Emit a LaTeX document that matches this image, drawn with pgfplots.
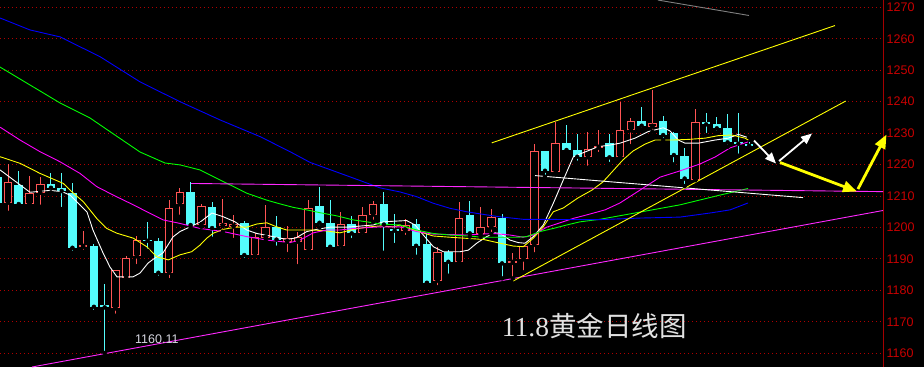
\documentclass[border=0pt]{standalone}
\usepackage{fontspec}
\setmainfont{Liberation Sans}
\newfontfamily\serifdigits{Liberation Serif}
\newfontfamily\cjk{Noto Sans CJK SC}
\usepackage{pgfplots}
\usepackage{pgfplotstable}
\pgfplotsset{compat=1.18}
\usetikzlibrary{arrows.meta}

\definecolor{upred}{RGB}{255,84,84}
\definecolor{downcyan}{RGB}{84,252,252}
\definecolor{gridred}{RGB}{176,0,0}
\definecolor{axisred}{RGB}{165,0,0}
\definecolor{labelred}{RGB}{200,0,0}
\definecolor{maone}{RGB}{255,255,255}
\definecolor{matwo}{RGB}{255,255,0}
\definecolor{mathree}{RGB}{255,0,255}
\definecolor{mafour}{RGB}{0,255,0}
\definecolor{mafive}{RGB}{0,0,255}
\definecolor{masix}{RGB}{128,128,128}
\definecolor{noteline}{RGB}{255,40,255}

% daily candles: index, open, high, low, close
\pgfplotstableread{
k  open    high    low     close
0  1207.86 1220.17 1204.68 1214.35
2  1207.54 1216.45 1207.54 1210.85
3  1211.04 1215.94 1206.59 1213.81
7  1193.87 1198.96 1192.28 1194.41
10 1174.28 1186.50 1171.93 1186.36
11 1184.01 1190.91 1183.18 1190.18
12 1190.82 1197.18 1187.73 1196.00
15 1185.60 1208.72 1183.28 1206.08
16 1207.35 1212.44 1203.41 1211.17
18 1200.77 1207.45 1200.23 1206.81
20 1200.45 1209.04 1198.64 1201.31
21 1200.29 1203.95 1196.00 1201.25
23 1191.23 1198.13 1191.01 1196.86
24 1196.80 1207.13 1196.00 1200.04
26 1195.46 1200.45 1191.55 1196.64
27 1195.46 1198.54 1187.73 1196.86
28 1192.82 1208.72 1192.82 1206.08
31 1194.19 1204.81 1192.82 1201.09
33 1198.32 1206.40 1197.05 1203.86
34 1204.11 1208.40 1201.82 1207.38
37 1199.02 1202.68 1196.96 1200.93
40 1183.06 1193.87 1180.96 1192.09
42 1188.91 1208.18 1188.59 1202.90
44 1197.91 1206.59 1197.05 1200.04
45 1200.04 1205.86 1197.91 1203.22
47 1188.78 1191.96 1183.82 1189.32
48 1189.86 1194.00 1185.73 1194.00
49 1194.50 1226.53 1191.45 1224.21
51 1217.72 1233.43 1217.21 1226.75
54 1222.30 1230.44 1218.99 1224.84
55 1225.35 1230.98 1223.35 1225.89
57 1222.30 1239.98 1221.98 1230.88
58 1230.88 1234.70 1225.89 1233.84
60 1232.03 1243.70 1230.44 1233.11
64 1215.08 1237.66 1215.08 1233.43
}\upcandles

\pgfplotstableread{
k  open    high    low     close
-1 1216.13 1216.13 1207.86 1207.86
1  1213.49 1218.04 1206.81 1207.45
4  1213.81 1217.21 1211.17 1212.63
5  1212.44 1217.40 1205.86 1211.58
6  1210.85 1214.03 1191.96 1193.55
8  1194.09 1194.63 1173.20 1174.79
9  1175.33 1182.01 1160.11 1174.60
13 1196.10 1201.63 1192.60 1195.78
14 1195.68 1196.54 1184.01 1185.60
17 1211.26 1214.54 1200.13 1200.77
19 1206.40 1208.08 1196.41 1199.82
22 1201.31 1202.14 1189.64 1191.23
25 1200.13 1203.63 1193.55 1196.16
29 1206.81 1212.76 1200.04 1201.50
30 1201.31 1208.72 1193.14 1193.87
32 1201.09 1203.73 1196.00 1198.13
35 1207.45 1211.17 1191.96 1200.93
36 1199.66 1204.27 1194.41 1199.02
38 1201.09 1202.68 1190.69 1194.19
39 1194.73 1198.23 1182.23 1182.42
41 1192.09 1192.82 1184.65 1189.10
43 1203.86 1208.31 1197.05 1198.13
46 1202.99 1204.17 1183.82 1188.59
50 1224.21 1224.30 1216.13 1218.04
52 1226.75 1232.57 1223.57 1224.62
53 1224.62 1229.71 1220.58 1222.49
56 1226.75 1229.71 1220.17 1222.30
59 1233.84 1238.39 1230.98 1232.35
61 1233.84 1235.43 1227.80 1229.39
62 1230.12 1230.20 1220.07 1223.03
63 1222.81 1225.16 1213.17 1215.56
65 1233.43 1236.29 1229.39 1232.79
66 1232.79 1235.02 1230.12 1231.52
67 1231.71 1235.97 1225.67 1227.07
68 1227.16 1236.48 1222.81 1226.62
69 1226.62 1227.26 1224.94 1225.99
}\downcandles

\begin{document}
\begin{tikzpicture}
\fill[black] (0,0) rectangle (924pt,367pt);
\begin{axis}[
  at={(0,0)}, anchor=south west,
  scale only axis, width=883pt, height=367pt,
  xmin=-0.745, xmax=81.47, ymin=1155.65, ymax=1272.32,
  clip=false,
  axis x line=none,
  axis y line*=right,
  y axis line style={draw=axisred, line width=1pt},
  ytick={1160,1170,...,1270},
  yticklabel style={text=labelred, font=\fontsize{12.5}{13}\selectfont,
    anchor=west, inner sep=0pt, xshift=3.5pt},
  major tick length=0pt,
  ymajorgrids,
  grid style={gridred, line width=1pt, dash pattern=on 1pt off 3pt},
  /pgf/number format/assume math mode=true,
  /pgf/number format/1000 sep={},
]

% wicks
\addplot[only marks, mark=none, forget plot,
  error bars/.cd, y dir=plus, y explicit, error mark=none,
  error bar style={draw=upred, line width=1pt}]
  table[x=k, y=low, y error expr=\thisrow{high}-\thisrow{low}] {\upcandles};
\addplot[only marks, mark=none, forget plot,
  error bars/.cd, y dir=plus, y explicit, error mark=none,
  error bar style={draw=downcyan, line width=1pt}]
  table[x=k, y=low, y error expr=\thisrow{high}-\thisrow{low}] {\downcandles};

% falling bodies: solid cyan
\addplot[only marks, mark=none, forget plot,
  error bars/.cd, y dir=plus, y explicit, error mark=none,
  error bar style={draw=downcyan, line width=8.6pt}]
  table[x=k, y=close, y error expr=\thisrow{open}-\thisrow{close}] {\downcandles};

% rising bodies: hollow red
\addplot[only marks, mark=none, forget plot,
  error bars/.cd, y dir=plus, y explicit, error mark=none,
  error bar style={draw=upred, line width=8.6pt}]
  table[x=k, y=open, y error expr=\thisrow{close}-\thisrow{open}] {\upcandles};
\addplot[only marks, mark=none, forget plot,
  error bars/.cd, y dir=plus, y explicit, error mark=none,
  error bar style={draw=black, line width=6.6pt}]
  table[x=k, y expr=\thisrow{open}+0.32,
        y error expr={max(\thisrow{close}-\thisrow{open}-0.64,0)}] {\upcandles};

% moving averages
\addplot[maone, line width=0.9pt, mark=none] coordinates {
(-0.74,1218.3) (2.05,1211.2) (3.91,1211.8) (5.03,1211.4) (5.77,1210.3) (6.70,1207.2)
(7.36,1204.9) (7.91,1199.2) (8.85,1191.9) (9.50,1187.4) (10.15,1184.3) (11.64,1184.3)
(12.29,1185.5) (13.04,1188.7) (13.69,1190.3) (14.43,1191.9) (15.36,1197.0) (16.01,1198.7)
(16.95,1200.2) (17.88,1201.7) (18.99,1204.6) (20.05,1203.4) (21.14,1201.8) (22.23,1199.2)
(23.16,1198.1) (24.39,1197.3) (25.95,1196.2) (26.82,1196.7) (27.81,1198.7) (28.74,1199.4)
(29.98,1200.1) (31.54,1200.1) (34.01,1200.8) (34.94,1201.8) (36.50,1202.1) (37.12,1202.2)
(37.90,1200.8) (38.67,1197.6) (39.60,1193.9) (40.53,1192.3) (42.09,1192.3) (42.86,1192.8)
(43.64,1195.0) (44.57,1197.1) (45.34,1198.3) (45.81,1198.1) (46.74,1196.0) (47.51,1195.2)
(48.14,1195.0) (48.91,1197.1) (49.84,1200.8) (50.77,1207.7) (51.70,1215.1) (52.64,1222.5)
(53.57,1223.8) (54.96,1225.7) (56.05,1226.2) (56.98,1226.8) (58.38,1228.4) (59.62,1230.5)
(61.01,1231.7) (61.64,1230.7) (62.41,1227.8) (63.04,1226.8) (64.27,1226.8) (65.83,1227.8)
(67.07,1228.4) (68.00,1229.6) (68.78,1228.7)};
\addplot[matwo, line width=0.9pt, mark=none] coordinates {
(-0.74,1222.5) (1.12,1220.4) (2.98,1217.2) (5.15,1214.0) (5.93,1211.4) (7.01,1208.2)
(8.26,1202.9) (9.19,1199.7) (10.12,1198.2) (11.67,1196.6) (12.91,1193.9) (13.85,1190.7)
(14.93,1189.7) (16.01,1191.3) (17.10,1192.3) (17.88,1194.4) (18.50,1196.6) (19.12,1198.2)
(20.05,1199.4) (21.14,1200.1) (22.23,1200.1) (23.16,1201.1) (24.09,1201.5) (25.02,1200.2)
(25.95,1199.2) (28.43,1199.2) (29.67,1198.9) (30.91,1198.3) (32.15,1199.4) (33.40,1200.1)
(34.64,1200.5) (35.88,1200.2) (36.50,1200.8) (38.05,1198.9) (39.60,1197.3) (41.15,1196.9)
(44.26,1196.2) (45.81,1195.0) (47.05,1194.1) (47.98,1193.9) (48.91,1196.6) (49.84,1200.2)
(50.77,1205.0) (51.70,1206.2) (53.07,1209.4) (54.38,1211.9) (55.40,1214.5) (56.33,1218.0)
(57.26,1221.5) (58.19,1224.3) (59.31,1226.5) (60.24,1227.8) (61.80,1227.8) (63.34,1228.0)
(64.90,1228.4) (66.14,1229.2) (67.38,1229.4) (68.62,1228.4) (68.93,1227.8)};
\addplot[mathree, line width=0.9pt, mark=none] coordinates {
(-0.74,1231.9) (1.12,1227.8) (2.98,1224.1) (4.84,1220.9) (6.70,1217.2) (8.26,1213.0)
(9.80,1210.3) (11.67,1207.2) (13.22,1204.5) (14.46,1202.4) (16.01,1201.3) (17.88,1199.7)
(20.05,1198.7) (22.23,1197.1) (24.09,1196.0) (26.26,1195.2) (27.19,1196.0) (28.43,1198.3)
(29.67,1199.2) (30.91,1199.2) (32.15,1199.7) (34.64,1200.2) (36.50,1200.2) (38.05,1198.7)
(39.60,1197.9) (42.71,1197.6) (45.19,1198.1) (46.74,1197.6) (47.98,1196.9) (48.91,1197.6)
(50.16,1200.1) (51.40,1201.5) (52.64,1202.9) (53.88,1204.0) (55.59,1205.6) (56.98,1207.8)
(58.85,1211.9) (60.71,1216.0) (62.57,1218.0) (64.43,1220.2) (65.83,1222.4) (67.23,1225.3)
(68.90,1227.2)};
\addplot[mafour, line width=0.9pt, mark=none] coordinates {
(-0.74,1251.0) (2.05,1245.3) (4.84,1239.6) (7.64,1234.8) (9.96,1229.4) (12.29,1224.0)
(14.62,1220.5) (16.01,1219.9) (17.88,1218.3) (20.05,1214.6) (22.23,1210.9) (24.09,1208.7)
(25.33,1207.5) (26.56,1206.4) (27.81,1205.6) (29.05,1204.7) (30.61,1203.7) (32.15,1202.4)
(33.40,1201.8) (34.64,1201.1) (36.50,1200.8) (38.05,1199.2) (39.60,1198.1) (41.15,1197.6)
(42.71,1197.3) (44.26,1196.9) (47.37,1196.9) (48.30,1197.1) (49.53,1198.7) (50.77,1199.7)
(52.02,1200.8) (53.26,1201.8) (55.12,1202.6) (58.85,1204.9) (62.57,1207.2) (66.29,1210.3)
(68.90,1212.4)};
\addplot[mafive, line width=0.9pt, mark=none] coordinates {
(-0.74,1266.6) (2.05,1262.8) (4.84,1260.6) (8.57,1254.3) (12.29,1246.3) (16.01,1240.0)
(19.74,1234.2) (23.46,1228.9) (26.26,1224.1) (28.12,1220.7) (31.84,1216.1) (34.64,1212.6)
(36.50,1211.3) (38.05,1209.8) (39.60,1207.7) (41.15,1206.1) (42.71,1205.0) (44.57,1204.0)
(45.81,1203.4) (47.98,1202.6) (55.12,1202.5) (58.85,1203.0) (62.57,1203.3) (65.36,1204.6)
(67.23,1205.6) (68.90,1207.8)};
\addplot[masix, line width=0.9pt, mark=none] coordinates {(60.52,1272.3) (68.99,1267.4)};

% trend lines
\addplot[noteline, line width=0.9pt, mark=none] coordinates {(2.23,1155.65) (81.47,1205.4)};
\addplot[noteline, line width=0.9pt, mark=none] coordinates {(17.04,1214.0) (81.47,1211.4)};
\addplot[white, line width=0.9pt, mark=none] coordinates {(49.07,1216.5) (74.02,1209.5)};
\addplot[matwo, line width=0.9pt, mark=none] coordinates {(45.04,1226.9) (77.0,1264.2)};
\addplot[matwo, line width=0.9pt, mark=none] coordinates {(47.05,1183.0) (78.0,1240.2)};

% projected path arrows
\addplot[white, line width=1.8pt, mark=none, -{Triangle[length=11pt,width=9pt]}]
  coordinates {(69.46,1227.65) (71.51,1220.34)};
\addplot[white, line width=1.8pt, mark=none, -{Triangle[length=11pt,width=9pt]}]
  coordinates {(71.79,1221.13) (74.86,1229.88)};
\addplot[matwo, line width=2.8pt, mark=none, -{Triangle[length=14pt,width=11pt]}]
  coordinates {(71.88,1220.66) (79.05,1211.44)};
\addplot[matwo, line width=2.8pt, mark=none, -{Triangle[length=14pt,width=11pt]}]
  coordinates {(79.14,1212.23) (81.80,1229.56)};

% low label and title
\node[anchor=base west, inner sep=0pt, text={rgb,255:red,215;green,215;blue,225},
  font=\fontsize{12.5}{13}\selectfont] at (axis cs:11.82,1163.27) {1160.11};
\node[anchor=base west, inner sep=0pt, text={rgb,255:red,225;green,225;blue,225},
  font=\fontsize{27.5}{28}\selectfont] at (axis cs:45.97,1165.3)
  {{\serifdigits 11.8}{\cjk 黄金日线图}};
\end{axis}
\pgfresetboundingbox
\path (0,0) rectangle (924pt,367pt);
\end{tikzpicture}
\end{document}
